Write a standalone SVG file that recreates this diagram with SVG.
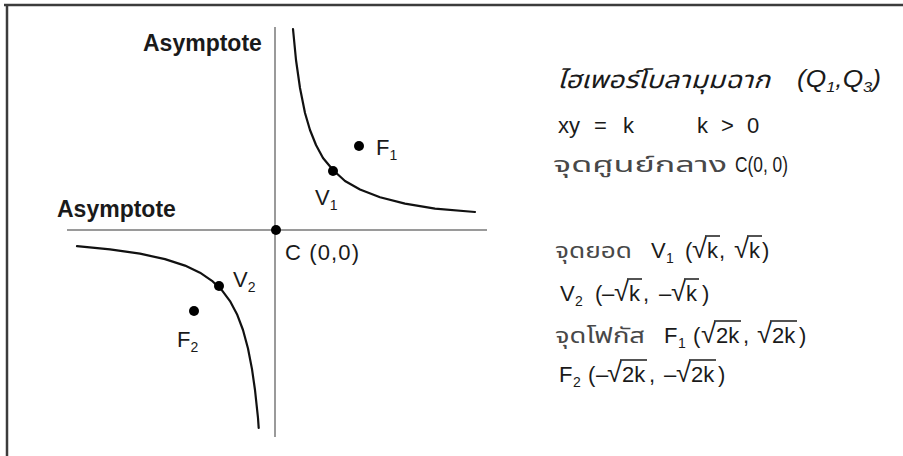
<svg xmlns="http://www.w3.org/2000/svg" width="903" height="456" viewBox="0 0 903 456">
<style>
.t{font-family:"Liberation Sans",Arial,"Noto Sans",sans-serif;fill:#1a1a1a}
.th{font-family:"Noto Sans Thai","Noto Sans","DejaVu Sans","Liberation Sans",sans-serif;fill:#484848;font-size:21px}
.b{font-weight:bold;font-size:23px}
.m{font-size:22px}
.s{font-size:14px}
.r{font-size:27px}
.ax{stroke:#9a9a9a;stroke-width:2;fill:none}
.cv{stroke:#111;stroke-width:2.2;fill:none;stroke-linejoin:round;stroke-linecap:round}
.dot{fill:#000}
.ov{stroke:#1a1a1a;stroke-width:1.5}
</style>
<rect width="903" height="456" fill="#fff"/>
<g id="frame" stroke="#3c3c3c" stroke-width="2.5" fill="none">
<line x1="4" y1="5" x2="903" y2="5"/>
<line x1="7" y1="5" x2="7" y2="456"/>
</g>
<g id="connectors">
<line class="ax" x1="275" y1="27" x2="275" y2="437"/>
<line class="ax" x1="67" y1="230" x2="487" y2="230"/>
<polyline class="cv" points="293,29 296,60 300,88 305,113 310,130 316,145 323,158 333,170 345,181 360,189.5 380,197.3 405,203.6 435,208.6 475,212"/>
<polyline class="cv" points="77,246.2 110,249.4 140,253.7 165,259.1 185,265.6 200,272.7 212,280.8 222,290.4 230,301.1 237,314.2 243,330 248,348.5 252,369.1 255,390 258,418 258.7,428"/>
</g>
<g id="asymptote-y"><text class="t b" x="143" y="51">Asymptote</text></g>
<g id="asymptote-x"><text class="t b" x="57" y="217">Asymptote</text></g>
<g id="C"><circle class="dot" cx="276" cy="230" r="5"/><text class="t m" x="285" y="260" textLength="74">C (0,0)</text></g>
<g id="V1"><circle class="dot" cx="333" cy="171" r="5"/><text class="t m" x="315" y="205">V<tspan class="s" dy="5">1</tspan></text></g>
<g id="F1"><circle class="dot" cx="359" cy="146" r="5"/><text class="t m" x="376" y="155">F<tspan class="s" dy="5">1</tspan></text></g>
<g id="V2"><circle class="dot" cx="219" cy="286" r="5"/><text class="t m" x="233" y="287">V<tspan class="s" dy="5">2</tspan></text></g>
<g id="F2"><circle class="dot" cx="194" cy="311" r="5"/><text class="t m" x="177" y="347">F<tspan class="s" dy="5">2</tspan></text></g>
<g id="legend">
<text class="th" x="557" y="88" font-style="italic" style="fill:#1a1a1a;font-size:24px" textLength="213" lengthAdjust="spacingAndGlyphs">ไฮเพอร์โบลามุมฉาก</text>
<text class="t" x="797" y="87" font-style="italic" font-size="24" textLength="84" lengthAdjust="spacingAndGlyphs">(Q<tspan font-size="15" dy="5">1</tspan><tspan dy="-5">,Q</tspan><tspan font-size="15" dy="5">3</tspan><tspan dy="-5">)</tspan></text>
<text class="t m" y="133"><tspan x="558">xy</tspan><tspan x="594">=</tspan><tspan x="623">k</tspan><tspan x="697">k</tspan><tspan x="721">&gt;</tspan><tspan x="747">0</tspan></text>
<text class="th" x="553" y="172" textLength="174" lengthAdjust="spacingAndGlyphs">จุดศูนย์กลาง</text>
<text class="t m" x="735" y="172" textLength="53" lengthAdjust="spacingAndGlyphs">C(0, 0)</text>

<text class="th" x="555" y="258" textLength="77" lengthAdjust="spacingAndGlyphs">จุดยอด</text>
<text class="t m" y="258"><tspan x="651">V</tspan><tspan class="s" x="666" dy="5">1</tspan><tspan x="685" dy="-5">(</tspan><tspan class="r" x="692">√</tspan><tspan x="707">k</tspan><tspan x="719">,</tspan><tspan class="r" x="734">√</tspan><tspan x="749">k</tspan><tspan x="762">)</tspan></text>
<line class="ov" x1="705" y1="236" x2="720" y2="236"/>
<line class="ov" x1="747" y1="236" x2="762" y2="236"/>

<text class="t m" y="301"><tspan x="560">V</tspan><tspan class="s" x="575" dy="5">2</tspan><tspan x="595" dy="-5">(</tspan><tspan x="602">–</tspan><tspan class="r" x="614">√</tspan><tspan x="629">k</tspan><tspan x="643">,</tspan><tspan x="659">–</tspan><tspan class="r" x="671">√</tspan><tspan x="686">k</tspan><tspan x="702">)</tspan></text>
<line class="ov" x1="627" y1="279" x2="642" y2="279"/>
<line class="ov" x1="684" y1="279" x2="699" y2="279"/>

<text class="th" x="555" y="343" textLength="90" lengthAdjust="spacingAndGlyphs">จุดโฟกัส</text>
<text class="t m" y="343"><tspan x="664">F</tspan><tspan class="s" x="678" dy="5">1</tspan><tspan x="693" dy="-5">(</tspan><tspan class="r" x="701">√</tspan><tspan x="716">2k</tspan><tspan x="743">,</tspan><tspan class="r" x="757">√</tspan><tspan x="772">2k</tspan><tspan x="799">)</tspan></text>
<line class="ov" x1="714" y1="321" x2="741" y2="321"/>
<line class="ov" x1="770" y1="321" x2="797" y2="321"/>

<text class="t m" y="382"><tspan x="559">F</tspan><tspan class="s" x="573" dy="5">2</tspan><tspan x="588" dy="-5">(</tspan><tspan x="596">–</tspan><tspan class="r" x="607">√</tspan><tspan x="622">2k</tspan><tspan x="649">,</tspan><tspan x="664">–</tspan><tspan class="r" x="676">√</tspan><tspan x="691">2k</tspan><tspan x="718">)</tspan></text>
<line class="ov" x1="620" y1="360" x2="647" y2="360"/>
<line class="ov" x1="689" y1="360" x2="716" y2="360"/>
</g>
</svg>
